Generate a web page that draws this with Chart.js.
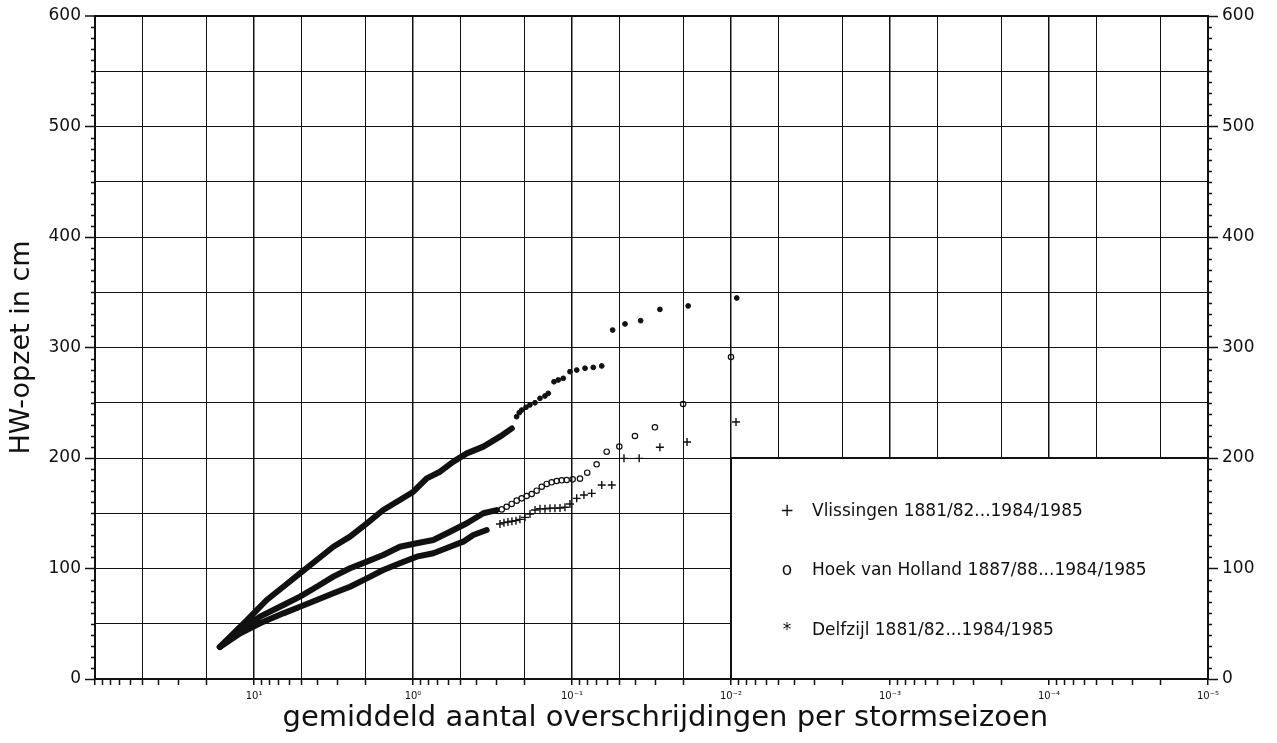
<!DOCTYPE html>
<html>
<head>
<meta charset="utf-8">
<script src="https://cdn.jsdelivr.net/npm/chart.js@4.4.1/dist/chart.umd.min.js"></script>
<style>
    html, body { margin: 0; padding: 0; background: #fff; }
    #wrap { width: 1277px; height: 743px; position: relative; }
</style>
</head>
<body>
<div id="wrap"><canvas id="surgeChart"></canvas></div>
<script>
// [overschrijdingsfrequentie per stormseizoen, HW-opzet in cm]
// "Band" = dichte reeks punten (als dikke lijn), "Tail" = losse punten
const vlissingenBand = [
    [16.4, 29], [12.2, 41.3], [9.17, 50.4], [6.54, 59.4], [5.14, 65.4], [4.03, 71.5],
    [3.17, 77.6], [2.49, 83.5], [1.95, 91.1], [1.54, 98.6], [1.21, 104.7], [0.948, 110.7],
    [0.745, 113.8], [0.585, 119.7], [0.483, 124.3], [0.418, 130.3], [0.344, 134.8]
];
const vlissingenTail = [
    [0.2838, 140.3], [0.2679, 141.5], [0.2529, 142.1], [0.2386, 142.7], [0.2252, 143.3],
    [0.2125, 144.5], [0.1975, 146.3], [0.1837, 149.3], [0.1709, 152.9], [0.159, 154.1],
    [0.1479, 154.1], [0.1375, 154.5], [0.128, 154.5], [0.119, 154.8], [0.1107, 155.4],
    [0.103, 158.4], [0.0934, 163.5], [0.0841, 166.5], [0.0752, 168], [0.065, 175.6],
    [0.0562, 175.6], [0.0471, 199.7], [0.0378, 199.7], [0.028, 209.7], [0.0189, 214.5],
    [0.0093, 232.6]
];

const hoekBand = [
    [16.4, 29], [12.2, 44.3], [9.17, 56.4], [6.54, 67], [5.14, 74.5], [4.03, 83.5],
    [3.17, 92.6], [2.49, 100.2], [1.95, 106.2], [1.54, 112.2], [1.21, 119.7], [0.948, 122.8],
    [0.745, 125.8], [0.585, 133.3], [0.459, 140.9], [0.361, 150], [0.298, 152.9]
];
const hoekTail = [
    [0.2767, 153.5], [0.2576, 155.9], [0.2395, 158.4], [0.2228, 161.4], [0.2072, 163.5],
    [0.1927, 165.6], [0.1792, 167.4], [0.1667, 170.4], [0.155, 174], [0.1442, 176.5],
    [0.1342, 178], [0.1248, 179.2], [0.1161, 179.8], [0.108, 180.1], [0.099, 180.7],
    [0.0891, 181.3], [0.0802, 186.7], [0.070, 194.3], [0.0605, 205.7], [0.0504, 210.3],
    [0.0402, 219.9], [0.0301, 227.8], [0.020, 248.9], [0.010, 291.4]
];

const delfzijlBand = [
    [16.4, 29], [13.5, 41], [11.1, 53], [8.32, 71.5], [6.54, 83.5], [5.14, 95.6],
    [4.03, 107.7], [3.17, 119.7], [2.49, 128.8], [1.95, 140.9], [1.54, 152.9], [1.21, 162],
    [0.995, 169.5], [0.82, 181.6], [0.676, 187.6], [0.557, 196.7], [0.459, 204.2],
    [0.361, 210.3], [0.284, 219.3], [0.239, 226.8]
];
const delfzijlTail = [
    [0.223, 237.4], [0.2146, 241], [0.207, 243.4], [0.1947, 245.9], [0.184, 248],
    [0.1709, 250], [0.159, 254], [0.1479, 256.1], [0.141, 258.5], [0.1298, 269],
    [0.122, 270.6], [0.1135, 272.1], [0.103, 278.1], [0.0934, 279.6], [0.0828, 281.2],
    [0.0735, 282], [0.065, 283.3], [0.0555, 315.8], [0.0464, 321.3], [0.037, 324.3],
    [0.028, 334.5], [0.0186, 337.6], [0.0092, 344.8]
];

// assen
const xDecades = [1e-5, 1e-4, 1e-3, 1e-2, 1e-1, 1, 10, 100];
const xGridMantissas = [1, 2, 5];
const yMin = 0, yMax = 600;

const legendMarkers = ['+', 'o', '*'];
const legendLabels = [
    'Vlissingen 1881/82...1984/1985',
    'Hoek van Holland 1887/88...1984/1985',
    'Delfzijl 1881/82...1984/1985'
];

const FONT = 'DejaVu Sans';
const INK = '#111';

function toPoints(arr) {
    return arr.map(([f, h]) => ({ x: f, y: h }));
}

function splitLog(v) {
    const e = Math.floor(Math.log10(v) + 1e-9);
    const m = Math.round(v / Math.pow(10, e));
    return { m, e };
}

function superscript(n) {
    const map = { '-': '⁻', '0': '⁰', '1': '¹', '2': '²', '3': '³', '4': '⁴', '5': '⁵', '6': '⁶', '7': '⁷', '8': '⁸', '9': '⁹' };
    return String(n).split('').map(c => map[c]).join('');
}

// alle tick-posities 1..9 x 10^k
const xTickValues = [];
xDecades.forEach(d => {
    if (d === 100) { xTickValues.push(100); return; }
    for (let m = 1; m <= 9; m++) xTickValues.push(m * d);
});

// kleine tick-streepjes op de verticale assen
const minorTicks = {
    id: 'minorTicks',
    afterDraw(chart) {
        const ctx = chart.ctx;
        const area = chart.chartArea;
        const y = chart.scales.y;
        ctx.save();
        ctx.strokeStyle = INK;
        ctx.lineWidth = 1.5;
        for (let v = yMin + 10; v < yMax; v += 10) {
            if (v % 100 === 0) continue;
            const py = Math.round(y.getPixelForValue(v)) + 0.5;
            ctx.beginPath();
            ctx.moveTo(area.left - 4, py);
            ctx.lineTo(area.left, py);
            ctx.moveTo(area.right, py);
            ctx.lineTo(area.right + 4, py);
            ctx.stroke();
        }
        ctx.restore();
    }
};

// legenda-kader rechtsonder, vanaf 10^-2 en 200 cm
const legendBox = {
    id: 'legendBox',
    beforeDatasetsDraw(chart) {
        const ctx = chart.ctx;
        const area = chart.chartArea;
        const left = chart.scales.x.getPixelForValue(0.01);
        const top = chart.scales.y.getPixelForValue(200);
        ctx.save();
        ctx.fillStyle = '#fff';
        ctx.fillRect(left, top, area.right - left - 1, area.bottom - top - 1);
        ctx.strokeStyle = INK;
        ctx.lineWidth = 2;
        ctx.beginPath();
        ctx.moveTo(left, area.bottom);
        ctx.lineTo(left, top);
        ctx.lineTo(area.right, top);
        ctx.stroke();

        ctx.fillStyle = INK;
        ctx.font = '17px "' + FONT + '"';
        ctx.textBaseline = 'middle';
        const rowOffsets = [54, 113, 173];
        legendLabels.forEach((label, i) => {
            ctx.textAlign = 'center';
            ctx.fillText(legendMarkers[i], left + 56, top + rowOffsets[i]);
            ctx.textAlign = 'left';
            ctx.fillText(label, left + 81, top + rowOffsets[i]);
        });
        ctx.restore();
    }
};

const bandStyle = {
    showLine: true,
    borderColor: INK,
    borderWidth: 6,
    borderCapStyle: 'round',
    borderJoinStyle: 'round',
    pointRadius: 0,
    fill: false
};

const ctx = document.getElementById('surgeChart').getContext('2d');

new Chart(ctx, {
    type: 'scatter',
    data: {
        datasets: [
            { label: 'Vlissingen', data: toPoints(vlissingenBand), ...bandStyle },
            { label: 'Hoek van Holland', data: toPoints(hoekBand), ...bandStyle },
            { label: 'Delfzijl', data: toPoints(delfzijlBand), ...bandStyle },
            {
                label: 'Vlissingen',
                data: toPoints(vlissingenTail),
                pointStyle: 'cross',
                pointRadius: 4,
                borderColor: INK,
                borderWidth: 1.4
            },
            {
                label: 'Hoek van Holland',
                data: toPoints(hoekTail),
                pointStyle: 'circle',
                pointRadius: 2.7,
                borderColor: INK,
                backgroundColor: 'rgba(255,255,255,0)',
                borderWidth: 1.2
            },
            {
                label: 'Delfzijl',
                data: toPoints(delfzijlTail),
                pointStyle: 'circle',
                pointRadius: 2.4,
                borderColor: INK,
                backgroundColor: INK,
                borderWidth: 1
            }
        ]
    },
    options: {
        responsive: true,
        maintainAspectRatio: false,
        animation: false,
        events: [],
        layout: { padding: { top: 16, left: 0, right: 0, bottom: 0 } },
        plugins: {
            legend: { display: false },
            tooltip: { enabled: false }
        },
        scales: {
            x: {
                type: 'logarithmic',
                reverse: true,
                min: 1e-5,
                max: 100,
                afterBuildTicks(scale) {
                    scale.ticks = xTickValues.map(v => ({ value: v }));
                },
                afterFit(scale) {
                    scale.height = 64;
                },
                grid: {
                    color: c => xGridMantissas.includes(splitLog(c.tick.value).m) ? INK : 'rgba(0,0,0,0)',
                    lineWidth: c => (splitLog(c.tick.value).m === 1 ? 1.5 : 1),
                    tickColor: INK,
                    tickWidth: 1.5,
                    tickLength: 6
                },
                border: { color: INK, width: 2 },
                ticks: {
                    autoSkip: false,
                    maxRotation: 0,
                    padding: 5,
                    color: INK,
                    font: { family: FONT, size: 10 },
                    callback: v => {
                        const { m, e } = splitLog(v);
                        return (m === 1 && e < 2) ? '10' + superscript(e) : '';
                    }
                },
                title: {
                    display: true,
                    text: '\u00a0\u00a0\u00a0gemiddeld aantal overschrijdingen per stormseizoen',
                    color: INK,
                    font: { family: FONT, size: 29 },
                    padding: { top: 0, bottom: 7 }
                }
            },
            y: {
                position: 'left',
                min: yMin,
                max: yMax,
                afterFit(scale) {
                    scale.width = 95;
                },
                ticks: {
                    stepSize: 10,
                    autoSkip: false,
                    padding: 4,
                    color: INK,
                    font: { family: FONT, size: 17 },
                    callback: v => (v % 100 === 0 ? v : '')
                },
                grid: {
                    color: c => (c.tick.value % 50 === 0 ? INK : 'rgba(0,0,0,0)'),
                    lineWidth: c => (c.tick.value === yMax ? 2 : 1),
                    tickColor: c => (c.tick.value % 100 === 0 ? INK : 'rgba(0,0,0,0)'),
                    tickWidth: 1.5,
                    tickLength: 10
                },
                border: { color: INK, width: 2 },
                title: {
                    display: true,
                    text: 'HW-opzet in cm',
                    color: INK,
                    font: { family: FONT, size: 27 },
                    padding: { top: 6, bottom: 0 }
                }
            },
            y2: {
                position: 'right',
                min: yMin,
                max: yMax,
                afterFit(scale) {
                    scale.width = 69;
                },
                ticks: {
                    stepSize: 10,
                    autoSkip: false,
                    padding: 4,
                    color: INK,
                    font: { family: FONT, size: 17 },
                    callback: v => (v % 100 === 0 ? v : '')
                },
                grid: {
                    drawOnChartArea: false,
                    tickColor: c => (c.tick.value % 100 === 0 ? INK : 'rgba(0,0,0,0)'),
                    tickWidth: 1.5,
                    tickLength: 10
                },
                border: { color: INK, width: 2 }
            }
        }
    },
    plugins: [legendBox, minorTicks]
});
</script>
</body>
</html>
